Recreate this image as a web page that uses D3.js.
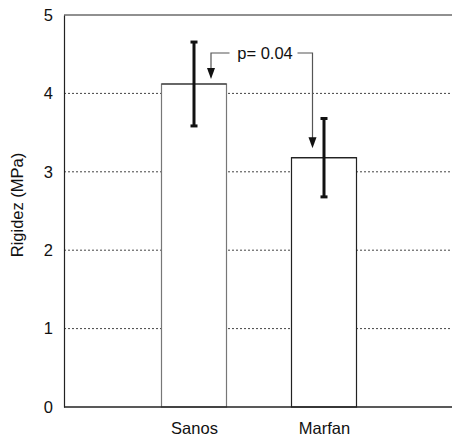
<!DOCTYPE html>
<html><head><meta charset="utf-8">
<script src="https://cdn.jsdelivr.net/npm/d3@7"></script>
<style>body{margin:0;background:#fff}svg{display:block;font-family:"Liberation Sans",Arial,sans-serif}</style>
</head><body>
<svg id="c" width="452" height="437"></svg>
<script>
const categories = ["Sanos", "Marfan"];
const means = [4.12, 3.18];
const errors = [0.535, 0.5];
const yTicks = [0, 1, 2, 3, 4, 5];
const yLabel = "Rigidez (MPa)";
const pLabel = "p= 0.04";

(function () {
const svg = d3.select("#c");
const mLeft = 64, mRight = 454, mTop = 15, mBottom = 407;
const x = d3.scalePoint().domain(categories).range([mLeft, mRight]).padding(1);
const y = d3.scaleLinear().domain([0, 5]).range([mBottom, mTop]);
const barW = 65;
const FS = 16.5;

// gridlines
svg.append("g").selectAll("line").data(yTicks.filter(t => t > 0 && t < 5)).join("line")
  .attr("x1", mLeft).attr("x2", 452).attr("y1", d => y(d)).attr("y2", d => y(d))
  .attr("stroke", "#444").attr("stroke-width", 1).attr("stroke-dasharray", "2,2");

// top border
svg.append("line").attr("x1", mLeft).attr("x2", 452).attr("y1", y(5)).attr("y2", y(5))
  .attr("stroke", "#222").attr("stroke-width", 1.2);

// bars
svg.append("g").selectAll("rect").data(categories).join("rect")
  .attr("x", d => x(d) - barW / 2).attr("width", barW)
  .attr("y", (d, i) => y(means[i])).attr("height", (d, i) => y(0) - y(means[i]))
  .attr("fill", "#fff").attr("stroke", (d, i) => i === 0 ? "#777" : "#222").attr("stroke-width", 1.2);
svg.append("g").selectAll("line").data(categories).join("line")
  .attr("x1", d => x(d) - barW / 2).attr("x2", d => x(d) + barW / 2)
  .attr("y1", (d, i) => y(means[i])).attr("y2", (d, i) => y(means[i]))
  .attr("stroke", "#222").attr("stroke-width", 1.2);

// error bars
const eg = svg.append("g").attr("stroke", "#111").attr("stroke-width", 3);
categories.forEach((c, i) => {
  const cx = x(c);
  eg.append("line").attr("x1", cx).attr("x2", cx).attr("y1", y(means[i] + errors[i])).attr("y2", y(means[i] - errors[i]));
  [means[i] + errors[i], means[i] - errors[i]].forEach(v => {
    eg.append("line").attr("x1", cx - 3.5).attr("x2", cx + 3.5).attr("y1", y(v)).attr("y2", y(v));
  });
});

// axes
const yAxis = d3.axisLeft(y).tickValues(yTicks).tickSize(0).tickPadding(11).tickFormat(d3.format("d"));
const ga = svg.append("g").attr("transform", `translate(${mLeft},0)`).call(yAxis);
ga.select(".domain").attr("stroke", "#222").attr("stroke-width", 1.2);
ga.selectAll("text").attr("font-size", FS).attr("fill", "#111").attr("font-family", "Liberation Sans, Arial, sans-serif");

const xAxis = d3.axisBottom(x).tickSize(0).tickPadding(15);
const gx = svg.append("g").attr("transform", `translate(0,${mBottom})`).call(xAxis);
gx.select(".domain").remove();
svg.append("line").attr("x1", mLeft).attr("x2", 452).attr("y1", mBottom).attr("y2", mBottom).attr("stroke", "#222").attr("stroke-width", 1.5);
gx.selectAll("text").attr("font-size", FS).attr("fill", "#111").attr("font-family", "Liberation Sans, Arial, sans-serif");

// y label
svg.append("text").attr("transform", `translate(23,205) rotate(-90)`)
  .attr("text-anchor", "middle").attr("font-size", FS).attr("fill", "#111").text(yLabel);

// annotation
const ty = 53;
const tx = 265;
svg.append("text").attr("x", tx).attr("y", 59).attr("text-anchor", "middle")
  .attr("font-size", FS).attr("fill", "#111").text(pLabel);
const ag = svg.append("g").attr("stroke", "#555").attr("stroke-width", 1.2).attr("fill", "none");
const lx = x(categories[0]) + 17, rx = x(categories[1]) - 11.5;
const lyEnd = y(means[0]) - 5, ryEnd = y(means[1]) - 9.5;
ag.append("path").attr("d", `M229.5,${ty} H${lx} V${lyEnd - 10}`);
ag.append("path").attr("d", `M297.5,${ty} H${rx} V${ryEnd - 10}`);
svg.append("path").attr("d", `M${lx - 4},${lyEnd - 11} L${lx + 4},${lyEnd - 11} L${lx},${lyEnd} Z`).attr("fill", "#111");
svg.append("path").attr("d", `M${rx - 4},${ryEnd - 11} L${rx + 4},${ryEnd - 11} L${rx},${ryEnd} Z`).attr("fill", "#111");
})();
</script>
</body></html>
